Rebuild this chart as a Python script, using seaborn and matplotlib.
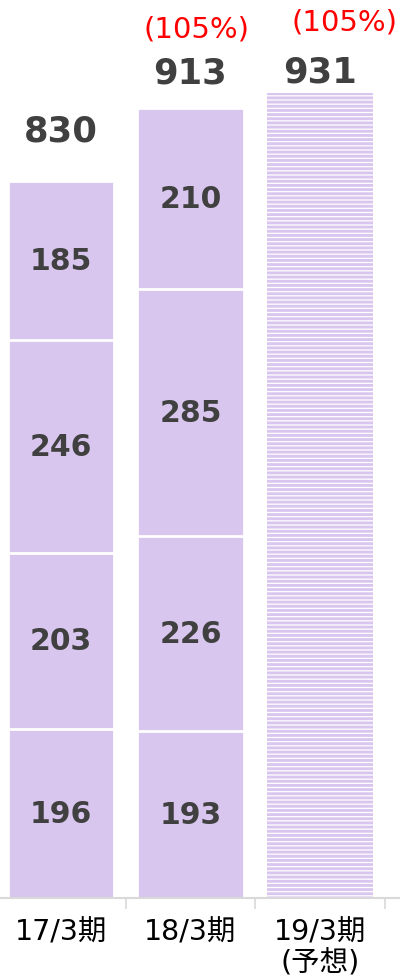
import numpy as np
import pandas as pd
import matplotlib
matplotlib.use("Agg")
import matplotlib.pyplot as plt
import seaborn as sns

# data
periods = ["17/3期", "18/3期", "19/3期\n(予想)"]
seg_1703 = [196, 203, 246, 185]   # bottom -> top
seg_1803 = [193, 226, 285, 210]
totals = [830, 913, 931]
growth = ["", "(105%)", "(105%)"]

purple = "#D9C6EE"
txt = "#404040"

sns.set_theme(style="white")
plt.rcParams["font.family"] = ["DejaVu Sans", "Noto Sans CJK JP"]
plt.rcParams["hatch.linewidth"] = 2.1

fig = plt.figure(figsize=(4, 9.78), dpi=100)
ax = fig.add_axes([0, 0.0808, 1, 0.9192])

# stacked bars: cumulative heights drawn from the top down, white edges split segments
stack = pd.DataFrame({"period": [periods[0]] * 4 + [periods[1]] * 4,
                      "value": seg_1703 + seg_1803,
                      "level": list(range(4)) * 2})
stack["cum"] = stack.groupby("period")["value"].cumsum()
for lvl in [3, 2, 1, 0]:
    d = stack[stack["level"] == lvl]
    sns.barplot(data=d, x="period", y="cum", order=periods, color=purple,
                saturation=1, width=0.82, edgecolor="white", linewidth=2, ax=ax)

# forecast bar, hatched
sns.barplot(x=[periods[2]], y=[totals[2]], order=periods, color="white",
            saturation=1, width=0.82, edgecolor=purple, linewidth=0,
            hatch="----", ax=ax)

# segment labels
for _, r in stack.iterrows():
    xi = periods.index(r["period"])
    ax.text(xi, r["cum"] - r["value"] / 2, f"{r['value']}", ha="center", va="center",
            fontsize=21.5, fontweight="bold", color=txt)

# totals and growth
tot_off = [50, 36, 22]
for i, t in enumerate(totals):
    ax.annotate(f"{t}", (i, t), xytext=(0, tot_off[i] * 0.72), textcoords="offset points",
                ha="center", va="center", fontsize=25.5, fontweight="bold", color=txt)
grow_y = [0, 1006, 1014]
grow_dx = [0, 0.05, 0.19]
for i, g in enumerate(growth):
    if g:
        ax.text(i + grow_dx[i], grow_y[i], g, ha="center", va="center",
                fontsize=21, color="#FF0000")

ax.set_xlim(-0.471, 2.618)
ax.set_ylim(0, 1040)
ax.set_xlabel("")
ax.set_ylabel("")
ax.set_yticks([])
for s in ["left", "right", "top"]:
    ax.spines[s].set_visible(False)
ax.spines["bottom"].set_color("#D9D9D9")
ax.spines["bottom"].set_linewidth(1.5)
ax.set_xticks([0.5, 1.5, 2.5], minor=True)
ax.tick_params(axis="x", which="minor", length=8, width=1.2, color="#D9D9D9", bottom=True)
ax.tick_params(axis="x", which="major", length=0, pad=14, labelsize=20.5, labelcolor="black")
for lab in ax.get_xticklabels():
    lab.set_linespacing(1.1)

fig.savefig("out.png", dpi=100)
